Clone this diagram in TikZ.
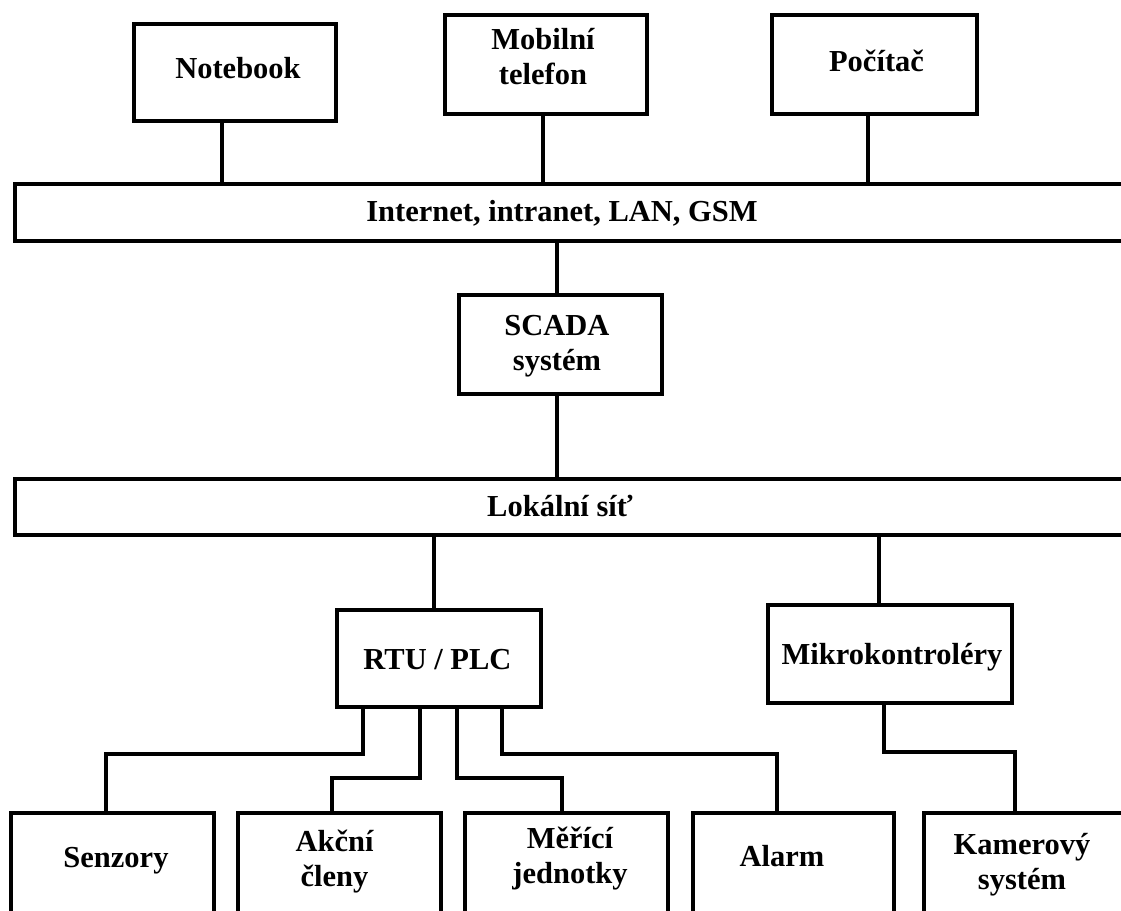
\documentclass[tikz,border=0pt]{standalone}
\usepackage{fontspec}
\setmainfont{Liberation Serif}
\begin{document}
\begin{tikzpicture}[x=1pt,y=-1pt,
  box/.style={draw, line width=4.5pt, rectangle, inner sep=0pt, outer sep=0pt},
  conn/.style={line width=3.5pt},
  lbl/.style={font=\fontsize{30.5}{35}\selectfont\bfseries, align=center, inner sep=0pt}]
\useasboundingbox (0,0) rectangle (1121,910);
\clip (0,0) rectangle (1121,910);
% top row
\node[box, minimum width=202pt, minimum height=97pt] (nb) at (235,72.5) {};
\node[box, minimum width=202pt, minimum height=99pt] (mob) at (546,64.5) {};
\node[box, minimum width=205pt, minimum height=99pt] (pc) at (874.5,64.5) {};
\node[box, minimum width=1125pt, minimum height=57pt] (inet) at (577.5,212.5) {};
\node[box, minimum width=203pt, minimum height=99pt] (scada) at (560.5,344.5) {};
\node[box, minimum width=1125pt, minimum height=56pt] (lan) at (577.5,507) {};
\node[box, minimum width=204pt, minimum height=97pt] (rtu) at (439,658.5) {};
\node[box, minimum width=244pt, minimum height=98pt] (mikro) at (890,654) {};
% bottom row (cut off by the lower edge)
\node[box, minimum width=203pt, minimum height=190pt, anchor=north] (senz) at (112.5,813) {};
\node[box, minimum width=203pt, minimum height=190pt, anchor=north] (akc) at (339.5,813) {};
\node[box, minimum width=203pt, minimum height=190pt, anchor=north] (mer) at (566.5,813) {};
\node[box, minimum width=201pt, minimum height=190pt, anchor=north] (alarm) at (793.5,813) {};
\node[box, minimum width=206pt, minimum height=190pt, anchor=north] (kam) at (1027,813) {};
% texts (anchor base = baseline of the last line)
\node[lbl, anchor=base] (tnb) at (238,78) {Notebook};
\node[lbl, anchor=base] (tmob) at (543,84) {Mobilní\\telefon};
\node[lbl, anchor=base] (tpc) at (876.5,71) {Počítač};
\node[lbl, anchor=base] (tinet) at (562,221) {Internet, intranet, LAN, GSM};
\node[lbl, anchor=base] (tscada) at (557,370) {SCADA\\systém};
\node[lbl, anchor=base] (tlan) at (560,516) {Lokální síť};
\node[lbl, anchor=base] (trtu) at (437.5,669) {RTU / PLC};
\node[lbl, anchor=base] (tmikro) at (892,664) {Mikrokontroléry};
\node[lbl, anchor=base] (tsenz) at (116,867) {Senzory};
\node[lbl, anchor=base] (takc) at (334.5,886) {Akční\\členy};
\node[lbl, anchor=base] (tmer) at (570,883) {Měřící\\jednotky};
\node[lbl, anchor=base] (talarm) at (782,866) {Alarm};
\node[lbl, anchor=base] (tkam) at (1022,889) {Kamerový\\systém};
% connector x positions
\coordinate (xnb) at (222,0);
\coordinate (xmob) at (543,0);
\coordinate (xpc) at (868,0);
\coordinate (xsc) at (557,0);
\coordinate (xrtu) at (434,0);
\coordinate (xmik) at (879,0);
\coordinate (r1) at (363,0);
\coordinate (r2) at (420,0);
\coordinate (r3) at (457,0);
\coordinate (r4) at (502,0);
\coordinate (m1) at (884,0);
\coordinate (s1) at (106,0);
\coordinate (s2) at (332,0);
\coordinate (s3) at (562,0);
\coordinate (s4) at (777,0);
\coordinate (s5) at (1015,0);
% connectors
\draw[conn] (nb.south -| xnb) -- (inet.north -| xnb);
\draw[conn] (mob.south -| xmob) -- (inet.north -| xmob);
\draw[conn] (pc.south -| xpc) -- (inet.north -| xpc);
\draw[conn] (inet.south -| xsc) -- (scada.north -| xsc);
\draw[conn] (scada.south -| xsc) -- (lan.north -| xsc);
\draw[conn] (lan.south -| xrtu) -- (rtu.north -| xrtu);
\draw[conn] (lan.south -| xmik) -- (mikro.north -| xmik);
\draw[conn] (rtu.south -| r1) -- ++(0,47) -| (senz.north -| s1);
\draw[conn] (rtu.south -| r2) -- ++(0,71) -| (akc.north -| s2);
\draw[conn] (rtu.south -| r3) -- ++(0,71) -| (mer.north -| s3);
\draw[conn] (rtu.south -| r4) -- ++(0,47) -| (alarm.north -| s4);
\draw[conn] (mikro.south -| m1) -- ++(0,49) -| (kam.north -| s5);
\end{tikzpicture}
\end{document}
